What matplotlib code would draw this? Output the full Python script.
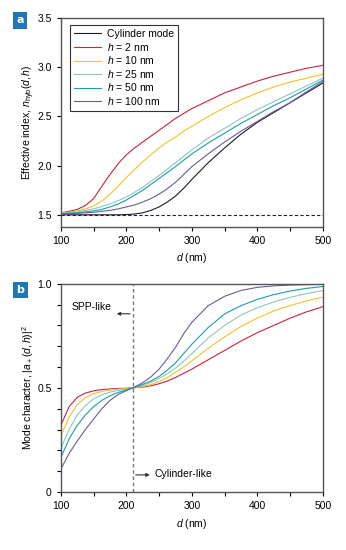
import numpy as np
import matplotlib
matplotlib.use('Agg')
import matplotlib.pyplot as plt
from matplotlib.ticker import MultipleLocator

# ---- data ----
labels = ['Cylinder mode', r'$h$ = 2 nm', r'$h$ = 10 nm', r'$h$ = 25 nm', r'$h$ = 50 nm', r'$h$ = 100 nm']
cols = ['#1c1c2e', '#c8243f', '#f0c22a', '#8fc6c0', '#1a9eab', '#6b5c9c']

# panel a: effective index
d_a = [100, 112.5, 125, 137.5, 150, 162.5, 175, 187.5, 200, 212.5, 225, 237.5, 250, 262.5, 275, 287.5, 300,
       325, 350, 375, 400, 425, 450, 475, 500]
n_cyl  = [1.50, 1.50, 1.50, 1.50, 1.50, 1.50, 1.50, 1.50, 1.502, 1.508, 1.52, 1.545, 1.58, 1.63, 1.69, 1.77, 1.86,
          2.03, 2.18, 2.32, 2.44, 2.54, 2.64, 2.74, 2.84]
n_h2   = [1.52, 1.535, 1.555, 1.595, 1.665, 1.79, 1.91, 2.02, 2.11, 2.18, 2.24, 2.30, 2.36, 2.42, 2.48, 2.53, 2.58,
          2.66, 2.74, 2.80, 2.86, 2.91, 2.95, 2.99, 3.02]
n_h10  = [1.52, 1.525, 1.54, 1.56, 1.59, 1.64, 1.71, 1.79, 1.88, 1.96, 2.04, 2.11, 2.18, 2.24, 2.29, 2.35, 2.40,
          2.50, 2.59, 2.67, 2.74, 2.80, 2.85, 2.89, 2.93]
n_h25  = [1.52, 1.52, 1.53, 1.545, 1.56, 1.585, 1.61, 1.645, 1.68, 1.73, 1.78, 1.84, 1.90, 1.965, 2.03, 2.095, 2.16,
          2.28, 2.38, 2.48, 2.57, 2.65, 2.73, 2.81, 2.89]
n_h50  = [1.51, 1.515, 1.52, 1.53, 1.54, 1.555, 1.58, 1.61, 1.65, 1.70, 1.75, 1.81, 1.87, 1.93, 1.99, 2.055, 2.12,
          2.23, 2.33, 2.43, 2.52, 2.61, 2.69, 2.78, 2.87]
n_h100 = [1.51, 1.512, 1.515, 1.52, 1.525, 1.535, 1.545, 1.56, 1.58, 1.60, 1.63, 1.665, 1.71, 1.765, 1.83, 1.91, 1.99,
          2.12, 2.24, 2.35, 2.45, 2.55, 2.64, 2.75, 2.855]

# panel b: mode character
d_b = [100, 112.5, 125, 137.5, 150, 162.5, 175, 187.5, 200, 212.5, 225, 237.5, 250, 262.5, 275, 287.5, 300,
       325, 350, 375, 400, 425, 450, 475, 500]
a_h2   = [0.32, 0.41, 0.455, 0.475, 0.486, 0.492, 0.495, 0.497, 0.498, 0.501, 0.504, 0.51, 0.52, 0.533, 0.55, 0.57, 0.59,
          0.635, 0.68, 0.725, 0.765, 0.80, 0.835, 0.865, 0.89]
a_h10  = [0.27, 0.36, 0.42, 0.453, 0.472, 0.483, 0.49, 0.494, 0.497, 0.501, 0.507, 0.516, 0.53, 0.55, 0.575, 0.60, 0.63,
          0.69, 0.745, 0.795, 0.835, 0.87, 0.895, 0.918, 0.936]
a_h25  = [0.21, 0.30, 0.37, 0.415, 0.447, 0.467, 0.48, 0.488, 0.494, 0.502, 0.512, 0.526, 0.545, 0.568, 0.595, 0.628, 0.665,
          0.74, 0.80, 0.85, 0.885, 0.913, 0.935, 0.953, 0.968]
a_h50  = [0.165, 0.255, 0.32, 0.37, 0.41, 0.44, 0.462, 0.478, 0.49, 0.503, 0.517, 0.533, 0.555, 0.585, 0.62, 0.665, 0.71,
          0.79, 0.855, 0.895, 0.925, 0.948, 0.965, 0.978, 0.987]
a_h100 = [0.11, 0.185, 0.245, 0.30, 0.35, 0.40, 0.44, 0.468, 0.487, 0.504, 0.525, 0.553, 0.59, 0.64, 0.695, 0.76, 0.815,
          0.895, 0.94, 0.968, 0.983, 0.99, 0.994, 0.996, 0.997]

n_clad = 1.5      # dashed line, panel a
d_cross = 210     # dashed line, panel b

params = {
    'font.family': ['Liberation Sans', 'DejaVu Sans'],
    'font.size': 7.5,
    'mathtext.fontset': 'custom',
    'mathtext.rm': 'Liberation Sans',
    'mathtext.it': 'Liberation Sans:italic',
    'axes.linewidth': 1.0,
    'axes.edgecolor': '#555555',
    'xtick.direction': 'out',
    'ytick.direction': 'out',
    'xtick.labelsize': 7.5,
    'ytick.labelsize': 7.5,
    'xtick.major.size': 3,
    'ytick.major.size': 3,
    'xtick.minor.size': 3,
    'ytick.minor.size': 3,
    'xtick.major.width': 0.8,
    'ytick.major.width': 0.8,
    'xtick.minor.width': 0.8,
    'ytick.minor.width': 0.8,
    'lines.linewidth': 0.8,
}
plt.rcParams.update(params)

fig = plt.figure(figsize=(3.46, 5.5), dpi=100)
ax1 = fig.add_axes([0.176, 0.588, 0.757, 0.379])
ax2 = fig.add_axes([0.176, 0.1055, 0.757, 0.3785])

# panel a
series_a = [n_cyl, n_h2, n_h10, n_h25, n_h50, n_h100]
for y, c, lab in zip(series_a, cols, labels):
    ax1.plot(d_a, y, color=c, label=lab)
ax1.axhline(n_clad, color='#222222', ls=(0, (3, 2)), lw=0.8)
ax1.set_xlim(100, 500)
ax1.set_ylim(1.38, 3.5)
ax1.set_yticks([1.5, 2.0, 2.5, 3.0, 3.5])
ax1.set_xticks([100, 200, 300, 400, 500])
ax1.xaxis.set_minor_locator(MultipleLocator(50))
ax1.set_xlabel(r'$d$ (nm)', labelpad=4)
ax1.set_ylabel(r'Effective index, $n_{\mathrm{hyb}}(d,h)$', labelpad=0)
leg = ax1.legend(loc='upper left', bbox_to_anchor=(0.015, 0.99), fontsize=7.5,
                 handlelength=2.6, handletextpad=0.6, labelspacing=0.15,
                 borderpad=0.35, fancybox=False, framealpha=1)
leg.get_frame().set_edgecolor('#333333')
leg.get_frame().set_linewidth(0.8)

# panel b
series_b = [a_h2, a_h10, a_h25, a_h50, a_h100]
for y, c in zip(series_b, cols[1:]):
    ax2.plot(d_b, y, color=c)
ax2.axvline(d_cross, color='#777777', ls=(0, (2.5, 2)), lw=1.0)
ax2.set_xlim(100, 500)
ax2.set_ylim(0, 1.0)
ax2.set_yticks([0, 0.5, 1.0])
ax2.set_yticklabels(['0', '0.5', '1.0'])
ax2.yaxis.set_minor_locator(MultipleLocator(0.1))
ax2.set_xticks([100, 200, 300, 400, 500])
ax2.xaxis.set_minor_locator(MultipleLocator(50))
ax2.set_xlabel(r'$d$ (nm)', labelpad=4)
ax2.set_ylabel(r'Mode character, $|a_+(d,h)|^2$', labelpad=1)

ax2.annotate('', xy=(181, 0.856), xytext=(d_cross, 0.856),
             arrowprops=dict(arrowstyle='-|>', color='#333333', lw=0.8, mutation_scale=5))
ax2.text(178, 0.89, 'SPP-like', ha='right', va='center', fontsize=7.5)
ax2.annotate('', xy=(240, 0.082), xytext=(d_cross, 0.082),
             arrowprops=dict(arrowstyle='-|>', color='#333333', lw=0.8, mutation_scale=5))
ax2.text(243, 0.085, 'Cylinder-like', ha='left', va='center', fontsize=7.5)

# panel letters
for lab, y in [('a', 0.963), ('b', 0.473)]:
    fig.text(0.059, y, lab, color='white', fontweight='bold', fontsize=8,
             ha='center', va='center', family='DejaVu Sans',
             bbox=dict(boxstyle='square,pad=0.3', fc='#1f78b4', ec='none'))

fig.savefig('out.png', dpi=100)
